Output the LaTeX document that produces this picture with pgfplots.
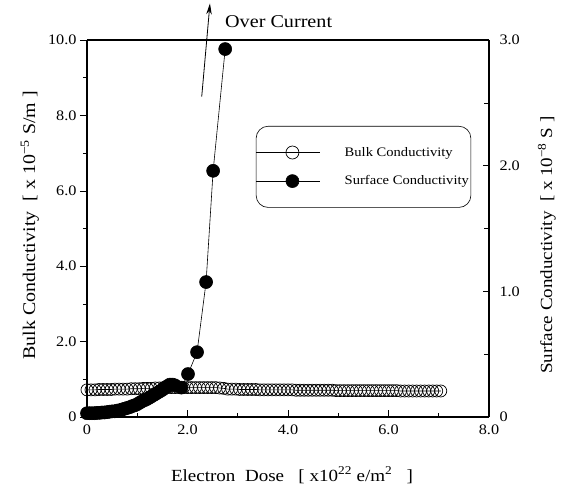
\documentclass[border=0pt]{standalone}
\usepackage{fontspec}
\setmainfont{Liberation Serif}[FakeStretch=1.12]
\usepackage{pgfplots}
\pgfplotsset{compat=1.18}
\usetikzlibrary{arrows.meta}
\begin{document}
\begin{tikzpicture}
\pgfplotsset{
  common/.style={
    scale only axis, width=402pt, height=377pt,
    xmin=0, xmax=8,
    /pgf/number format/assume math mode=true,
    tick label style={font=\fontsize{14.5}{16}\selectfont},
    label style={font=\fontsize{17}{19}\selectfont},
    every tick/.style={black, line width=0.6pt},
    axis line style={line width=1.1pt},
  }
}
\begin{axis}[common, name=main,
  ymin=0, ymax=10,
  axis y line*=left,
  xtick={0,2,4,6,8}, xticklabels={0,2.0,4.0,6.0,8.0},
  minor xtick={1,3,5,7},
  ytick={0,2,4,6,8,10}, yticklabels={0,2.0,4.0,6.0,8.0,10.0},
  minor ytick={1,3,5,7,9},
  xtick align=inside, ytick align=outside,
  major tick length=7pt, minor tick length=4pt,
  xtick pos=bottom,
  xticklabel style={yshift=-4pt},
  xlabel={Electron\ \ Dose\ \ \ [ x10\textsuperscript{22} e/m\textsuperscript{2}\ \ \ ]},
  xlabel style={at={(axis description cs:0.51,-0.154)}, anchor=center},
  ylabel={Bulk Conductivity\ \ [ x 10\textsuperscript{−5} S/m ]},
  ylabel style={at={(axis description cs:-0.142,0.509)}, anchor=center, font=\fontsize{17.8}{19}\selectfont},
  clip=false,
]
\addplot[black, mark=o, mark size=6pt, mark options={fill=white, line width=0.7pt}, line width=0.6pt]
table[row sep=\\]{x y\\
0.00 0.72\\ 0.08 0.72\\ 0.16 0.72\\ 0.24 0.73\\ 0.32 0.73\\ 0.40 0.73\\ 0.48 0.73\\ 0.56 0.74\\
0.64 0.74\\ 0.72 0.74\\ 0.80 0.74\\ 0.88 0.75\\ 0.96 0.75\\ 1.04 0.75\\ 1.12 0.76\\ 1.20 0.76\\
1.28 0.76\\ 1.36 0.77\\ 1.44 0.77\\ 1.52 0.78\\ 1.60 0.78\\ 1.68 0.78\\ 1.76 0.78\\ 1.84 0.78\\
1.92 0.78\\ 2.00 0.78\\ 2.08 0.78\\ 2.16 0.78\\ 2.24 0.78\\ 2.32 0.78\\ 2.40 0.78\\ 2.48 0.78\\
2.56 0.78\\ 2.64 0.77\\ 2.72 0.76\\ 2.80 0.74\\ 2.88 0.74\\ 2.96 0.74\\ 3.04 0.73\\ 3.12 0.73\\
3.20 0.73\\ 3.28 0.73\\ 3.36 0.73\\ 3.44 0.72\\ 3.52 0.72\\ 3.60 0.72\\ 3.68 0.72\\ 3.76 0.72\\
3.84 0.72\\ 3.92 0.72\\ 4.00 0.72\\ 4.08 0.72\\ 4.16 0.71\\ 4.24 0.71\\ 4.32 0.71\\ 4.40 0.71\\
4.48 0.71\\ 4.56 0.71\\ 4.64 0.71\\ 4.72 0.71\\ 4.80 0.71\\ 4.88 0.71\\ 4.96 0.70\\ 5.04 0.70\\
5.12 0.70\\ 5.20 0.70\\ 5.28 0.70\\ 5.36 0.70\\ 5.44 0.70\\ 5.52 0.70\\ 5.60 0.70\\ 5.68 0.70\\
5.76 0.70\\ 5.84 0.70\\ 5.92 0.70\\ 6.00 0.70\\ 6.08 0.70\\ 6.16 0.70\\ 6.24 0.69\\ 6.32 0.69\\
6.40 0.69\\ 6.48 0.69\\ 6.56 0.69\\ 6.64 0.69\\ 6.72 0.69\\ 6.80 0.69\\ 6.88 0.69\\ 6.96 0.69\\
7.04 0.69\\
};
\draw[-{Stealth[length=11pt,width=5.5pt]}, line width=0.8pt] (axis cs:2.283,8.496) -- (axis cs:2.447,10.97);
\node[font=\fontsize{18}{20}\selectfont, anchor=west, inner sep=0pt] at (axis cs:2.746,10.5) {Over Current};
\end{axis}
\begin{axis}[common,
  ymin=0, ymax=3,
  axis y line*=right, axis x line=none,
  ytick={0,1,2,3}, yticklabels={0,1.0,2.0,3.0},
  minor ytick={0.5,1.5,2.5},
  ytick align=inside,
  major tick length=6pt, minor tick length=5pt,
  yticklabel style={xshift=7pt},
  ylabel={Surface Conductivity\ \ [ x 10\textsuperscript{−8} S ]},
  ylabel style={at={(axis description cs:1.144,0.456)}, anchor=center},
  legend style={at={(rel axis cs:0.420,0.772)}, anchor=north west,
    rounded corners=12pt, draw=black, line width=0.6pt,
    font=\fontsize{13}{15}\selectfont, row sep=14pt,
    inner xsep=0pt, inner ysep=19pt, cells={anchor=west}},
  legend image code/.code={\draw[mark repeat=2, mark phase=2, #1] plot coordinates {(0pt,0pt) (36pt,0pt) (64pt,0pt)};},
]
\addlegendimage{black, mark=o, mark size=6.5pt, mark options={fill=white, line width=0.7pt}, line width=0.6pt}
\addlegendentry{\hspace{22pt}Bulk Conductivity}
\addplot[black, mark=*, mark size=6.5pt, line width=0.6pt]
table[row sep=\\]{x y\\
0.00 0.030\\ 0.05 0.030\\ 0.10 0.030\\ 0.15 0.030\\ 0.20 0.033\\ 0.25 0.033\\ 0.30 0.036\\ 0.35 0.036\\
0.40 0.039\\ 0.45 0.042\\ 0.50 0.045\\ 0.55 0.045\\ 0.60 0.051\\ 0.65 0.054\\ 0.70 0.060\\ 0.75 0.066\\
0.80 0.072\\ 0.85 0.078\\ 0.90 0.087\\ 0.95 0.093\\ 1.00 0.102\\ 1.05 0.114\\ 1.10 0.126\\ 1.15 0.135\\
1.20 0.144\\ 1.25 0.156\\ 1.30 0.168\\ 1.35 0.180\\ 1.40 0.192\\ 1.45 0.204\\ 1.50 0.216\\ 1.55 0.231\\
1.60 0.246\\ 1.65 0.258\\ 1.70 0.258\\ 1.75 0.252\\ 1.88 0.234\\ 2.01 0.342\\ 2.19 0.516\\ 2.37 1.074\\
2.51 1.959\\ 2.75 2.928\\
};
\addlegendentry{\hspace{22pt}Surface Conductivity}
\end{axis}
\path ([xshift=-87pt,yshift=-73pt]main.south west) rectangle ([xshift=85pt,yshift=40pt]main.north east);
\end{tikzpicture}
\end{document}
